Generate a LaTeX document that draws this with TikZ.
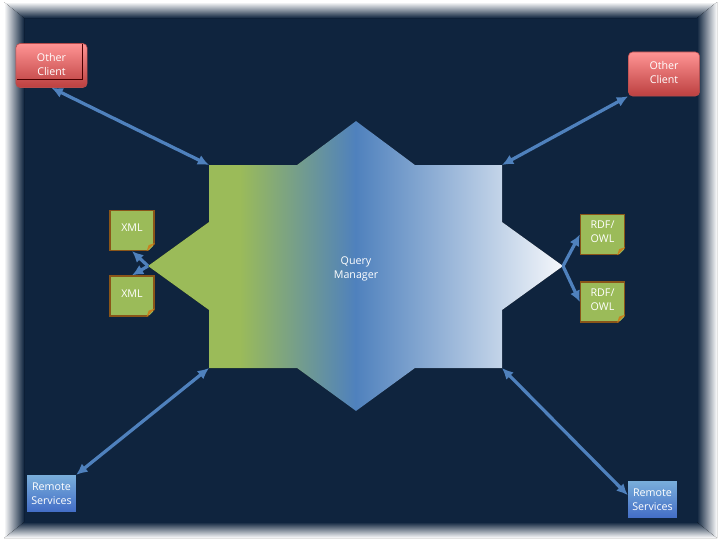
\documentclass[tikz,border=0pt]{standalone}
\usepackage{fontspec}
\setmainfont{Open Sans}
\usetikzlibrary{arrows,arrows.meta,positioning,calc}
\definecolor{navy}{HTML}{0F243E}
\definecolor{linkblue}{HTML}{4F81BD}
\definecolor{noteolive}{HTML}{9BBB59}
\definecolor{notebrown}{HTML}{8A5518}
\definecolor{notefold}{HTML}{C8801E}
\pgfdeclarehorizontalshading{starshade}{100bp}{
  rgb(0bp)=(0.608,0.733,0.349);
  rgb(25bp)=(0.608,0.733,0.349);
  rgb(36bp)=(0.608,0.733,0.349);
  rgb(50bp)=(0.31,0.506,0.741);
  rgb(75bp)=(0.96,0.97,0.985);
  rgb(100bp)=(0.96,0.97,0.985)}
\begin{document}
\begin{tikzpicture}[x=.025cm,y=-.025cm,font=\fontsize{7.6}{10}\selectfont,
link/.style={line width=2.3pt,linkblue,arrows={-Latex[length=8pt,width=7.5pt]}},
both/.style={link,arrows={Latex[length=8pt,width=7.5pt]-Latex[length=8pt,width=7.5pt]}},
note/.style={rectangle,draw=notebrown,line width=.9pt,fill=noteolive,text=white,align=center,text depth=3.5pt,minimum width=1.1cm,minimum height=1cm,inner sep=0pt},
client/.style={rectangle,rounded corners=3pt,draw=red!60!black!70,line width=.4pt,top color=red!42!white,bottom color=red!65!black!75!white,text=white,align=center,text depth=2pt,minimum width=1.78cm,minimum height=1.1cm,inner sep=0pt},
remote/.style={rectangle,top color=blue!30!cyan!20!linkblue!70!white,bottom color=linkblue!85!blue,text=white,align=center,minimum width=1.22cm,minimum height=.92cm,inner sep=0pt}]
\useasboundingbox (0,0) rectangle (720,540);
% frame
\fill[white] (0,0) rectangle (720,540);
\fill[navy] (24,18) rectangle (697,522);
\fill[top color=white,bottom color=navy] (4,2) -- (717,2) -- (697,18) -- (24,18) -- cycle;
\fill[top color=navy,bottom color=white] (24,522) -- (697,522) -- (717,538) -- (4,538) -- cycle;
\fill[left color=white,right color=navy] (4,2) -- (24,18) -- (24,522) -- (4,538) -- cycle;
\fill[left color=navy,right color=white] (697,18) -- (717,2) -- (717,538) -- (697,522) -- cycle;
% star
\coordinate (tl) at (209,165);
\coordinate (tr) at (502,165);
\coordinate (bl) at (209,368);
\coordinate (br) at (502,368);
\coordinate (west) at (148,266);
\coordinate (east) at (563,266);
\fill[shading=starshade] (tl) -- (297,165) -- (356,121) -- (415,165) -- (tr) -- (502,222) -- (east) -- (502,310) -- (br) -- (415,368) -- (356,411) -- (297,368) -- (bl) -- (209,310) -- (west) -- (209,222) -- cycle;
\node[text=white,align=center] (manager) at (356,269) {Query\\Manager};
% boxes
\node[client] (clienta) at (51.5,65.5) {Other\\Client};
\node[client] (clientb) at (664,74) {Other\\Client};
\node[remote] (remotea) at (51.5,493.5) {Remote\\Services};
\node[remote] (remoteb) at (652.5,499.5) {Remote\\Services};
\node[note] (xmla) at (132,230.5) {XML};
\node[note] (xmlb) at (132,296) {XML};
\node[note] (rdfa) at (602.5,234.5) {RDF/\\OWL};
\node[note] (rdfb) at (602.5,302) {RDF/\\OWL};
\draw[red!30!black,line width=.5pt] (clienta.north east)++(-5,1) -- ++(0,35) -- ++(-65,0);
\foreach \n in {xmla,xmlb,rdfa,rdfb}{
  \fill[navy] ($(\n.south east)+(-8,1.5)$) -- ($(\n.south east)+(1.5,1.5)$) -- ($(\n.south east)+(1.5,-8)$) -- cycle;
  \fill[notefold] ($(\n.south east)+(-8,0)$) -- ($(\n.south east)+(0,-8)$) -- ($(\n.south east)+(-6,-6)$) -- cycle;
}
% links
\draw[both] (clienta.south) -- (tl);
\draw[both] (clientb.south west) -- (tr);
\draw[both] (remotea.north east) -- (bl);
\draw[both] (remoteb.170) -- (br);
\draw[link] (west) -- (xmla.south);
\draw[link] (west) -- (xmlb.north);
\draw[link] (east) -- (rdfa.west);
\draw[link] (east) -- (rdfb.west);
\end{tikzpicture}
\end{document}
